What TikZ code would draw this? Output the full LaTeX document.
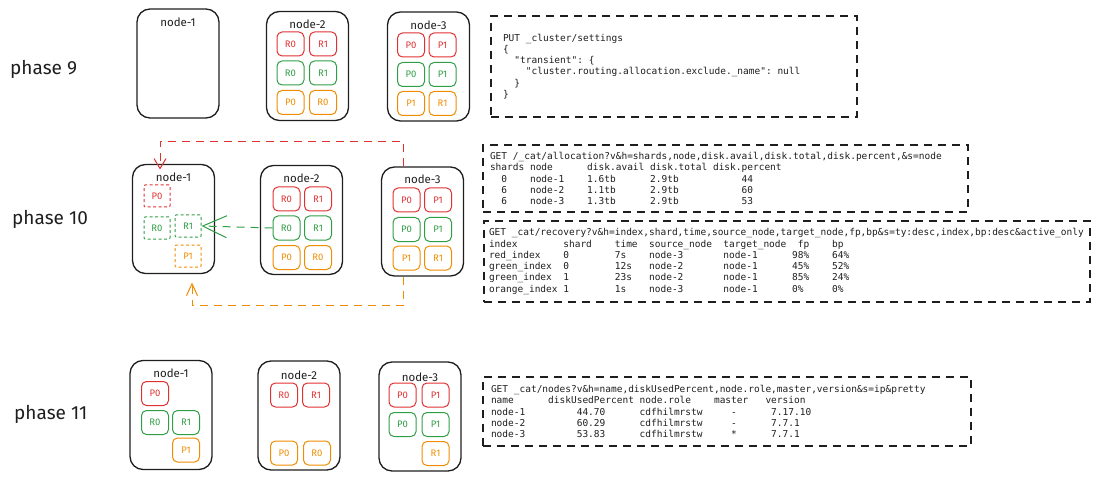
\documentclass[tikz,border=0pt]{standalone}
\usepackage{fontspec}
\setmainfont{Fira Sans}
\newfontfamily\codefont{DejaVu Sans Mono}[Ligatures=TeXOff]
\newcommand\codetype{\codefont\fontsize{9.5}{11.25}\selectfont}
\newcommand\gap[1]{\leavevmode\hspace*{#1\dimexpr0.602em\relax}}
\usetikzlibrary{arrows.meta}
\definecolor{ink}{HTML}{1E1E1E}
\definecolor{shred}{HTML}{E03131}
\definecolor{shgreen}{HTML}{2F9E44}
\definecolor{shorange}{HTML}{F08C00}

\begin{document}
\begin{tikzpicture}[x=1pt,y=-1pt,
	host/.style={draw=ink, line width=1.3pt, rounded corners=13pt, minimum width=82pt, minimum height=109pt, inner sep=0pt},
	hostname/.style={text=ink, inner sep=0pt, font=\fontsize{11.5}{12}\selectfont},
	shard/.style={draw=#1, text=#1, line width=1pt, rounded corners=5pt, minimum width=27pt, minimum height=24pt, inner sep=0pt, font=\fontsize{9.5}{10}\selectfont},
	moving/.style={shard=#1, minimum width=26pt, minimum height=22pt, rounded corners=1pt, dash pattern=on 3pt off 2.5pt},
	phase/.style={anchor=west, text=ink, inner sep=0pt, font=\fontsize{19}{20}\selectfont},
	request/.style={draw=ink, line width=1.2pt, dash pattern=on 8pt off 6pt, align=left, text=ink, inner ysep=0pt, font=\codetype},
	flow/.style={draw=#1, line width=1pt, dash pattern=on 8pt off 6pt}
]
	\useasboundingbox (0,0) rectangle (1100,481);

	\node[phase] (ph9) at (10,69) {phase 9};
	\node[phase] (ph10) at (12,219) {phase 10};
	\node[phase] (ph11) at (14,414) {phase 11};

	% phase 9
	\node[host] (p9n1) at (178,63.5) {};
	\node[hostname] (p9n1l) at (178,22) {node-1};
	\node[host] (p9n2) at (307.5,66) {};
	\node[hostname] (p9n2l) at (307.5,24) {node-2};
	\node[shard=shred] (p9n2rr0) at (290.5,44) {R0};
	\node[shard=shred] (p9n2rr1) at (323,44) {R1};
	\node[shard=shgreen] (p9n2gr0) at (290.5,73) {R0};
	\node[shard=shgreen] (p9n2gr1) at (323,73) {R1};
	\node[shard=shorange] (p9n2op0) at (290.5,102.5) {P0};
	\node[shard=shorange] (p9n2or0) at (323,102.5) {R0};
	\node[host] (p9n3) at (428.5,66.5) {};
	\node[hostname] (p9n3l) at (428.5,25) {node-3};
	\node[shard=shred] (p9n3rp0) at (411,45) {P0};
	\node[shard=shred] (p9n3rp1) at (442.5,45) {P1};
	\node[shard=shgreen] (p9n3gp0) at (411,74.5) {P0};
	\node[shard=shgreen] (p9n3gp1) at (442.5,74.5) {P1};
	\node[shard=shorange] (p9n3op1) at (411,103.5) {P1};
	\node[shard=shorange] (p9n3or1) at (442.5,103.5) {R1};
	\node[request, minimum width=366pt, minimum height=101pt, inner xsep=12pt, text width=342pt] (settings) at (674,66.5) {%
PUT\gap{1}\_cluster/settings\\
\{\\
\gap{2}"transient":\gap{1}\{\\
\gap{4}"cluster.routing.allocation.exclude.\_name":\gap{1}null\\
\gap{2}\}\\
\}};

	% phase 10
	\node[host] (p10n1) at (173.5,219) {};
	\node[hostname] (p10n1l) at (173.5,177) {node-1};
	\node[moving=shred] (p10n1rp0) at (157,196) {P0};
	\node[moving=shgreen] (p10n1gr0) at (157,228) {R0};
	\node[moving=shgreen] (p10n1gr1) at (188,226) {R1};
	\node[moving=shorange] (p10n1op1) at (188,256) {P1};
	\node[host] (p10n2) at (301.5,220) {};
	\node[hostname] (p10n2l) at (301.5,178) {node-2};
	\node[shard=shred] (p10n2rr0) at (286.5,199) {R0};
	\node[shard=shred] (p10n2rr1) at (318,199) {R1};
	\node[shard=shgreen] (p10n2gr0) at (286.5,228) {R0};
	\node[shard=shgreen] (p10n2gr1) at (318,228) {R1};
	\node[shard=shorange] (p10n2op0) at (286.5,257.5) {P0};
	\node[shard=shorange] (p10n2or0) at (318,257.5) {R0};
	\node[host] (p10n3) at (422.5,221.5) {};
	\node[hostname] (p10n3l) at (422.5,179) {node-3};
	\node[shard=shred] (p10n3rp0) at (406.5,200) {P0};
	\node[shard=shred] (p10n3rp1) at (438,200) {P1};
	\node[shard=shgreen] (p10n3gp0) at (406.5,229.5) {P0};
	\node[shard=shgreen] (p10n3gp1) at (438,229.5) {P1};
	\node[shard=shorange] (p10n3op1) at (406.5,258) {P1};
	\node[shard=shorange] (p10n3or1) at (438,258) {R1};

	\draw[flow=shred, -{Straight Barb[length=10pt,width=12pt,line width=1pt]}, shorten >=15pt]
		([xshift=-19.5pt]p10n3.north) -- ++(0,-25) -| ([xshift=3pt]p10n1rp0.north);
	\draw[flow=shgreen, -{Straight Barb[length=24pt,width=22pt,line width=1pt]}]
		(p10n2gr0.west) -- (p10n1gr1.east);
	\draw[flow=shorange, -{Straight Barb[length=12pt,width=11pt,line width=1pt]}, shorten >=15pt]
		([xshift=-19.5pt]p10n3.south) -- ++(0,29) -| ([xshift=4pt]p10n1op1.south);

	\node[request, minimum width=485pt, minimum height=67pt, inner xsep=7pt, text width=471pt] (allocation) at (725.5,178.5) {%
GET\gap{1}/\_cat/allocation?v\&h=shards,node,disk.avail,disk.total,disk.percent,\&s=node\\
shards\gap{1}node\gap{6}disk.avail\gap{1}disk.total\gap{1}disk.percent\\
\gap{2}0\gap{4}node-1\gap{4}1.6tb\gap{6}2.9tb\gap{11}44\\
\gap{2}6\gap{4}node-2\gap{4}1.1tb\gap{6}2.9tb\gap{11}60\\
\gap{2}6\gap{4}node-3\gap{4}1.3tb\gap{6}2.9tb\gap{11}53};
	\node[request, minimum width=606pt, minimum height=81pt, inner xsep=5pt, text width=596pt] (recovery) at (787,261.5) {%
GET\gap{1}\_cat/recovery?v\&h=index,shard,time,source\_node,target\_node,fp,bp\&s=ty:desc,index,bp:desc\&active\_only\\
index\gap{8}shard\gap{4}time\gap{2}source\_node\gap{2}target\_node\gap{2}fp\gap{4}bp\\
red\_index\gap{4}0\gap{8}7s\gap{4}node-3\gap{7}node-1\gap{6}98\%\gap{4}64\%\\
green\_index\gap{2}0\gap{8}12s\gap{3}node-2\gap{7}node-1\gap{6}45\%\gap{4}52\%\\
green\_index\gap{2}1\gap{8}23s\gap{3}node-2\gap{7}node-1\gap{6}85\%\gap{4}24\%\\
orange\_index\gap{1}1\gap{8}1s\gap{4}node-3\gap{7}node-1\gap{6}0\%\gap{5}0\%};

	% phase 11
	\node[host] (p11n1) at (171,415) {};
	\node[hostname] (p11n1l) at (171,373) {node-1};
	\node[shard=shred] (p11n1rp0) at (155,393.5) {P0};
	\node[shard=shgreen] (p11n1gr0) at (155,422.5) {R0};
	\node[shard=shgreen] (p11n1gr1) at (186,422.5) {R1};
	\node[shard=shorange] (p11n1op1) at (186,450) {P1};
	\node[host] (p11n2) at (299,415.5) {};
	\node[hostname] (p11n2l) at (299,375) {node-2};
	\node[shard=shred] (p11n2rr0) at (284,395) {R0};
	\node[shard=shred] (p11n2rr1) at (316,395) {R1};
	\node[shard=shorange] (p11n2op0) at (284,453) {P0};
	\node[shard=shorange] (p11n2or0) at (317,453) {R0};
	\node[host] (p11n3) at (420,416.5) {};
	\node[hostname] (p11n3l) at (420,377) {node-3};
	\node[shard=shred] (p11n3rp0) at (402.5,395) {P0};
	\node[shard=shred] (p11n3rp1) at (435.5,395) {P1};
	\node[shard=shgreen] (p11n3gp0) at (402.5,424.5) {P0};
	\node[shard=shgreen] (p11n3gp1) at (435.5,424.5) {P1};
	\node[shard=shorange] (p11n3or1) at (435.5,453.5) {R1};
	\node[request, minimum width=488pt, minimum height=69pt, inner xsep=8pt, text width=472pt] (nodes) at (727,411.5) {%
GET\gap{1}\_cat/nodes?v\&h=name,diskUsedPercent,node.role,master,version\&s=ip\&pretty\\
name\gap{6}diskUsedPercent\gap{1}node.role\gap{4}master\gap{3}version\\
node-1\gap{9}44.70\gap{6}cdfhilmrstw\gap{5}-\gap{6}7.17.10\\
node-2\gap{9}60.29\gap{6}cdfhilmrstw\gap{5}-\gap{6}7.7.1\\
node-3\gap{9}53.83\gap{6}cdfhilmrstw\gap{5}*\gap{6}7.7.1};
\end{tikzpicture}
\end{document}
